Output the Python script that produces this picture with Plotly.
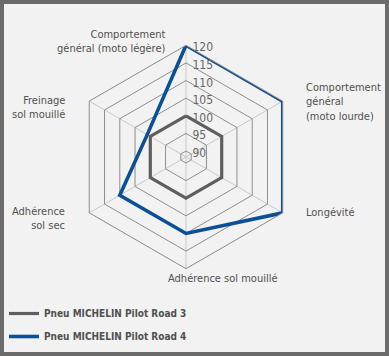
import base64
import plotly.graph_objects as go

# ---- data ----
categories = [
    "Comportement<br>général (moto légère)",
    "Comportement<br>général<br>(moto lourde)",
    "Longévité",
    "Adhérence sol mouillé",
    "Adhérence<br>sol sec",
    "Freinage<br>sol mouillé",
]
series_names = ["Pneu MICHELIN Pilot Road 3", "Pneu MICHELIN Pilot Road 4"]
road3_values = [100, 100, 100, 100, 100, 100]
road4_values = [120, 120, 120, 110, 110, 101]
radial_ticks = [90, 95, 100, 105, 110, 115, 120]

W, H = 389, 356
FONT = "DejaVu Sans Condensed, Liberation Sans Narrow, Arial Narrow, sans-serif"
TXT = "#505050"

fig = go.Figure()
fig.add_trace(go.Scatterpolar(
    r=road3_values + road3_values[:1], theta=categories + categories[:1],
    mode="lines", name=series_names[0], legendgroup="a",
    line=dict(color="#5e5e5e", width=3.2),
))
fig.add_trace(go.Scatterpolar(
    r=road4_values + road4_values[:1], theta=categories + categories[:1],
    mode="lines", name=series_names[1], legendgroup="b",
    line=dict(color="#0b4f97", width=3.6),
))

# polar geometry (pixels)
cx, cy, R = 186, 157, 111.7

# background gradient
svg = ('<svg xmlns="http://www.w3.org/2000/svg" width="381" height="348">'
       '<defs><linearGradient id="g" x1="0" y1="0" x2="1" y2="0.3">'
       '<stop offset="0" stop-color="#dedede"/><stop offset="0.6" stop-color="#f4f4f4"/>'
       '<stop offset="1" stop-color="#ffffff"/></linearGradient></defs>'
       '<rect width="381" height="348" fill="url(#g)"/></svg>')
src = "data:image/svg+xml;base64," + base64.b64encode(svg.encode()).decode()

label_pos = [
    dict(x=168, y=41, xanchor="right", align="right"),
    dict(x=304, y=102, xanchor="left", align="left"),
    dict(x=304, y=212, xanchor="left", align="left"),
    dict(x=166, y=278, xanchor="left", align="center"),
    dict(x=67, y=218, xanchor="right", align="right"),
    dict(x=67, y=107, xanchor="right", align="right"),
]
annotations = []
for cat, p in zip(categories, label_pos):
    annotations.append(dict(
        text=cat, x=p["x"] / W, y=1 - p["y"] / H, xref="paper", yref="paper",
        xanchor=p["xanchor"], yanchor="middle", align=p["align"], showarrow=False,
        font=dict(family=FONT, size=11, color=TXT),
    ))

fig.update_layout(
    width=W, height=H,
    margin=dict(l=0, r=0, t=0, b=0),
    paper_bgcolor="#6b6b6b",
    font=dict(family=FONT, color=TXT, size=11),
    shapes=[dict(type="rect", xref="paper", yref="paper",
                 x0=4 / W, x1=385 / W, y0=1 - 352 / H, y1=1 - 4 / H,
                 fillcolor="#f2f2f2", line=dict(width=0), layer="below")],
    images=[dict(source=src, xref="paper", yref="paper",
                 x=4 / W, y=1 - 4 / H, sizex=381 / W, sizey=348 / H,
                 xanchor="left", yanchor="top", sizing="stretch", layer="below")],
    polar=dict(
        domain=dict(x=[(cx - R) / W, (cx + R) / W], y=[1 - (cy + R) / H, 1 - (cy - R) / H]),
        bgcolor="rgba(0,0,0,0)",
        gridshape="linear",
        angularaxis=dict(rotation=90, direction="clockwise", showticklabels=False,
                         ticks="", showline=True, linecolor="#8a8a8a", linewidth=1,
                         gridcolor="#c9c9c9", gridwidth=1),
        radialaxis=dict(range=[88.3, 120], tickvals=radial_ticks, angle=90,
                        showline=False, ticks="", gridcolor="#8e8e8e", gridwidth=1,
                        tickfont=dict(family=FONT, size=12, color="#666666")),
    ),
    annotations=annotations,
    showlegend=True,
    legend=dict(x=4 / W, y=1 - 299 / H, xanchor="left", yanchor="top",
                bgcolor="rgba(0,0,0,0)", traceorder="grouped", tracegroupgap=4,
                font=dict(family=FONT, size=10, color=TXT, weight="bold")),
)

fig.write_html("out.html", config={"displayModeBar": False},
               post_script="document.body.style.margin='0';")
